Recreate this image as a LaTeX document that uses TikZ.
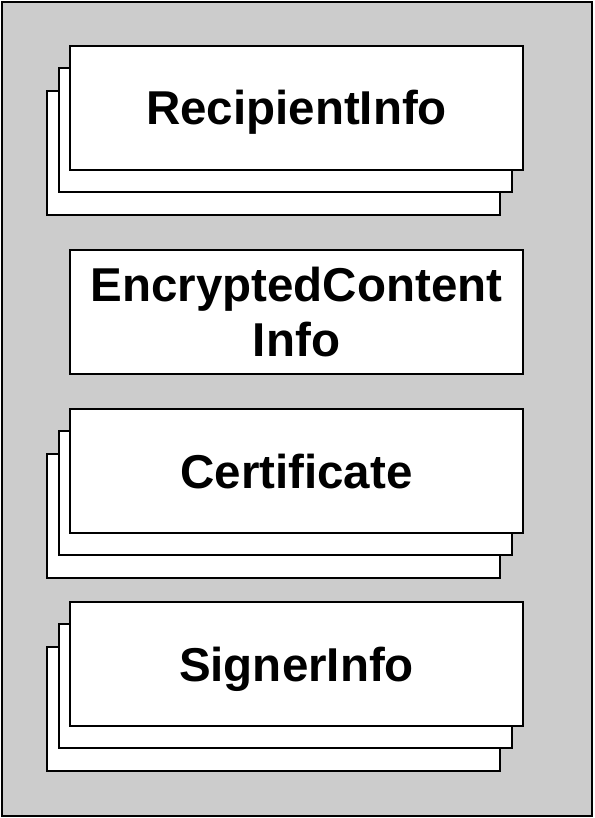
\documentclass[tikz,border=0pt]{standalone}
\usepackage{fontspec}
\setmainfont{Liberation Sans}
\usetikzlibrary{positioning, calc}

\begin{document}
\begin{tikzpicture}[x=1pt, y=-1pt,
    % Styles
    frame/.style={rectangle, draw, line width=2.4pt, fill=black!20},
    box/.style={rectangle, draw, line width=2.4pt, fill=white, inner sep=0pt, minimum width=453pt, minimum height=124pt, align=center, font=\fontsize{47.5}{55}\selectfont\bfseries},
    oneline/.style={box, text height=34pt, text depth=0pt},
    shadow1/.style={box, shift={(-11,22)}},
    shadow2/.style={box, shift={(-23,45)}},
]
\useasboundingbox (0,0) rectangle (594,818);

% === OUTER FRAME ===
\draw[frame] (2,2) rectangle (592,816);

% === STACKED BACK SHEETS ===
\node[shadow2] (recipback2) at (296.5,108) {};
\node[shadow1] (recipback1) at (296.5,108) {};
\node[shadow2] (certback2) at (296.5,471) {};
\node[shadow1] (certback1) at (296.5,471) {};
\node[shadow2] (signback2) at (296.5,664) {};
\node[shadow1] (signback1) at (296.5,664) {};

% === FRONT BOXES ===
\node[oneline] (recip) at (296.5,108) {RecipientInfo};
\node[box] (enc) at (296.5,312) {EncryptedContent\\Info};
\node[oneline] (cert) at (296.5,471) {Certificate};
\node[oneline] (sign) at (296.5,664) {SignerInfo};

\end{tikzpicture}
\end{document}
